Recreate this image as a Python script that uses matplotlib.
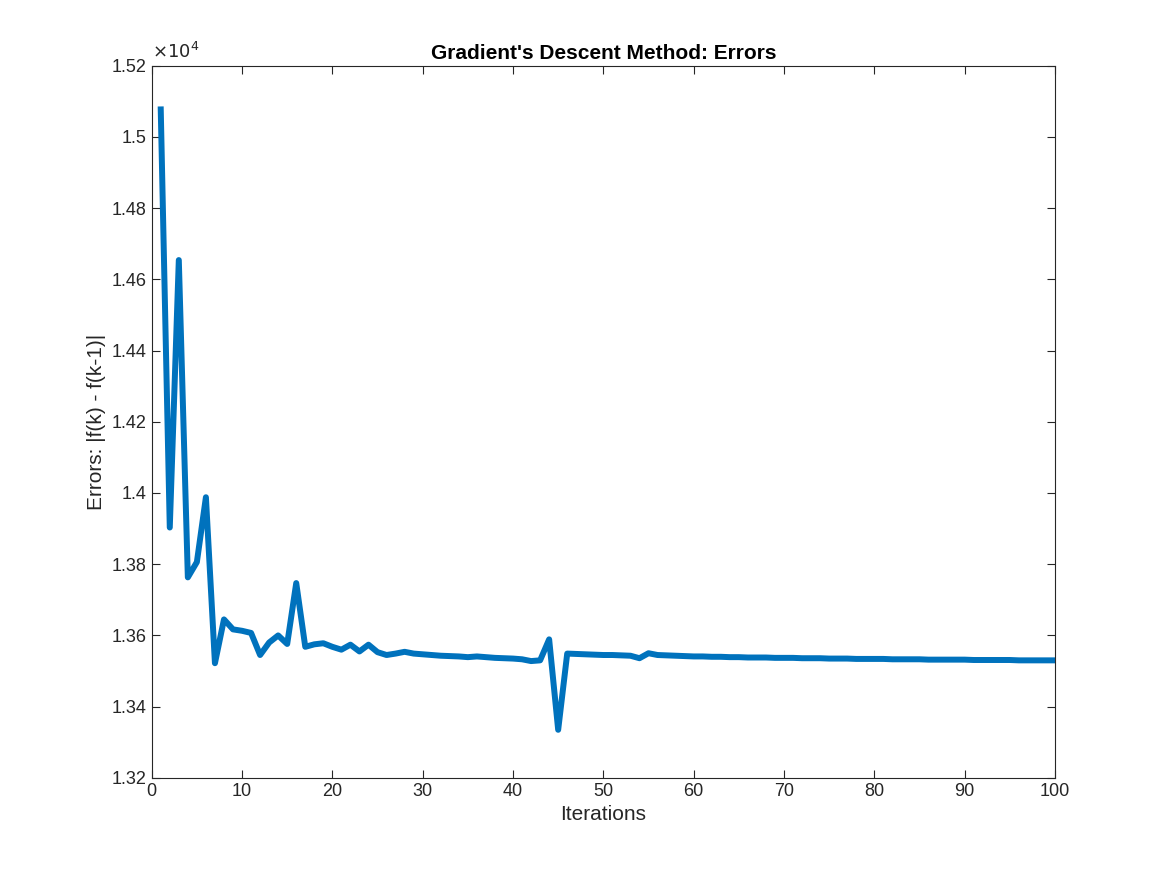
import matplotlib.pyplot as plt
from matplotlib.ticker import FuncFormatter

iterations = list(range(1, 101))
errors = [
    15077, 13903, 14654, 13763, 13806, 13988, 13522, 13645, 13617, 13613,
    13607, 13545, 13580, 13600, 13576, 13747, 13568, 13575, 13578, 13568,
    13560, 13574, 13555, 13574, 13553, 13545, 13549, 13554, 13549, 13547,
    13545, 13543, 13542, 13541, 13539, 13541, 13539, 13537, 13536, 13535,
    13533, 13528, 13530, 13589, 13335, 13549, 13548, 13547, 13546, 13545,
    13545, 13544, 13543, 13536, 13550, 13545, 13544, 13543, 13542, 13541,
    13541, 13540, 13540, 13539, 13539, 13538, 13538, 13538, 13537, 13537,
    13537, 13536, 13536, 13536, 13535, 13535, 13535, 13534, 13534, 13534,
    13534, 13533, 13533, 13533, 13533, 13532, 13532, 13532, 13532, 13532,
    13531, 13531, 13531, 13531, 13531, 13530, 13530, 13530, 13530, 13530,
]

plt.rcParams['font.family'] = ['Liberation Sans', 'DejaVu Sans']
fig = plt.figure(figsize=(11.67, 8.75), dpi=100)
ax = fig.add_axes([0.130, 0.111, 0.774, 0.814])
ax.plot(iterations, errors, color='#0072BD', linewidth=4.3)
ax.set_xlim(0, 100)
ax.set_ylim(13200, 15200)
ax.set_xticks(range(0, 101, 10))
ax.set_yticks(range(13200, 15201, 200))
ax.yaxis.set_major_formatter(FuncFormatter(lambda v, p: f'{v/1e4:g}'))
ax.tick_params(direction='in', top=True, right=True, labelsize=13, colors='#262626', length=6)
for s in ax.spines.values():
    s.set_color('#262626')
ax.text(0, 1.005, r'$\times10^4$', transform=ax.transAxes, fontsize=13, color='#262626', va='bottom')
ax.set_xlabel('Iterations', fontsize=15, color='#262626')
ax.set_ylabel('Errors: |f(k) - f(k-1)|', fontsize=15, color='#262626')
ax.set_title("Gradient's Descent Method: Errors", fontsize=15, fontweight='bold', pad=5)
fig.savefig('out.png')
